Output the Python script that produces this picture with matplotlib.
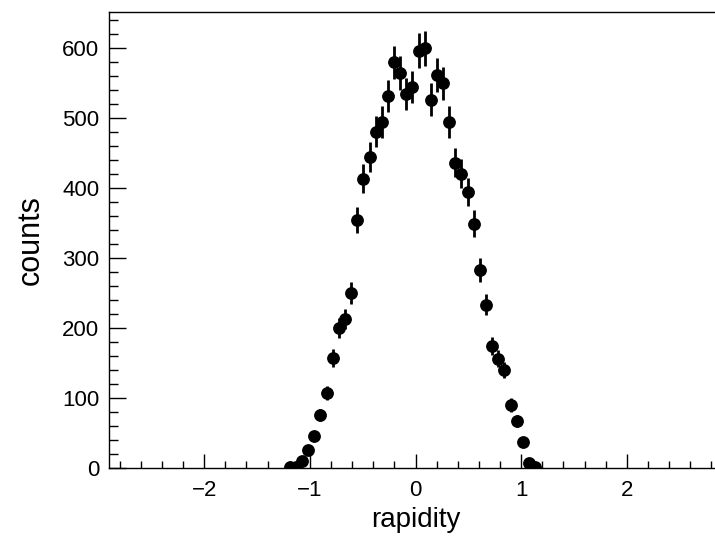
import numpy as np
import matplotlib
matplotlib.use('Agg')
import matplotlib.pyplot as plt
from matplotlib.ticker import MultipleLocator

plt.rcParams['font.family'] = ['Liberation Sans Narrow', 'Liberation Sans', 'DejaVu Sans']

# histogram: 100 bins from -2.9 to 2.9, filled bins 29..69
n_bins = 100
x_lo, x_hi = -2.9, 2.9
first_bin = 29
counts = [1, 2, 10, 26, 46, 76, 107, 157, 200, 213, 250,
          354, 413, 444, 480, 494, 531, 579, 564, 534, 544,
          596, 599, 526, 561, 549, 494, 436, 420, 394, 349,
          283, 233, 174, 156, 140, 90, 67, 37, 7, 2]

edges = np.linspace(x_lo, x_hi, n_bins + 1)
centers = 0.5 * (edges[:-1] + edges[1:])
x = centers[first_bin:first_bin + len(counts)]
y = np.array(counts, dtype=float)
err = np.sqrt(y)

fig = plt.figure(figsize=(7.15, 5.39), dpi=100)
ax = fig.add_axes([109/715, 1 - 468/539, (722 - 109)/715, (468 - 12)/539])

ax.errorbar(x, y, yerr=err, fmt='o', color='black', ms=8.2,
            elinewidth=2, capsize=0)

ax.set_xlim(x_lo, x_hi)
ax.set_ylim(0, 651)

ax.xaxis.set_major_locator(MultipleLocator(1))
ax.xaxis.set_minor_locator(MultipleLocator(0.2))
ax.yaxis.set_major_locator(MultipleLocator(100))
ax.yaxis.set_minor_locator(MultipleLocator(20))

ax.tick_params(which='both', direction='in', top=False, right=False,
               labelsize=16, width=1)
ax.tick_params(axis='x', which='major', length=10, pad=9)
ax.tick_params(axis='x', which='minor', length=5)
ax.tick_params(axis='y', which='major', length=12.5, pad=7)
ax.tick_params(axis='y', which='minor', length=6.5)

for s in ax.spines.values():
    s.set_linewidth(1)

ax.set_xlabel('rapidity', fontsize=20, labelpad=4)
ax.set_ylabel('counts', fontsize=22, labelpad=12)

fig.savefig('out.png', dpi=100)
